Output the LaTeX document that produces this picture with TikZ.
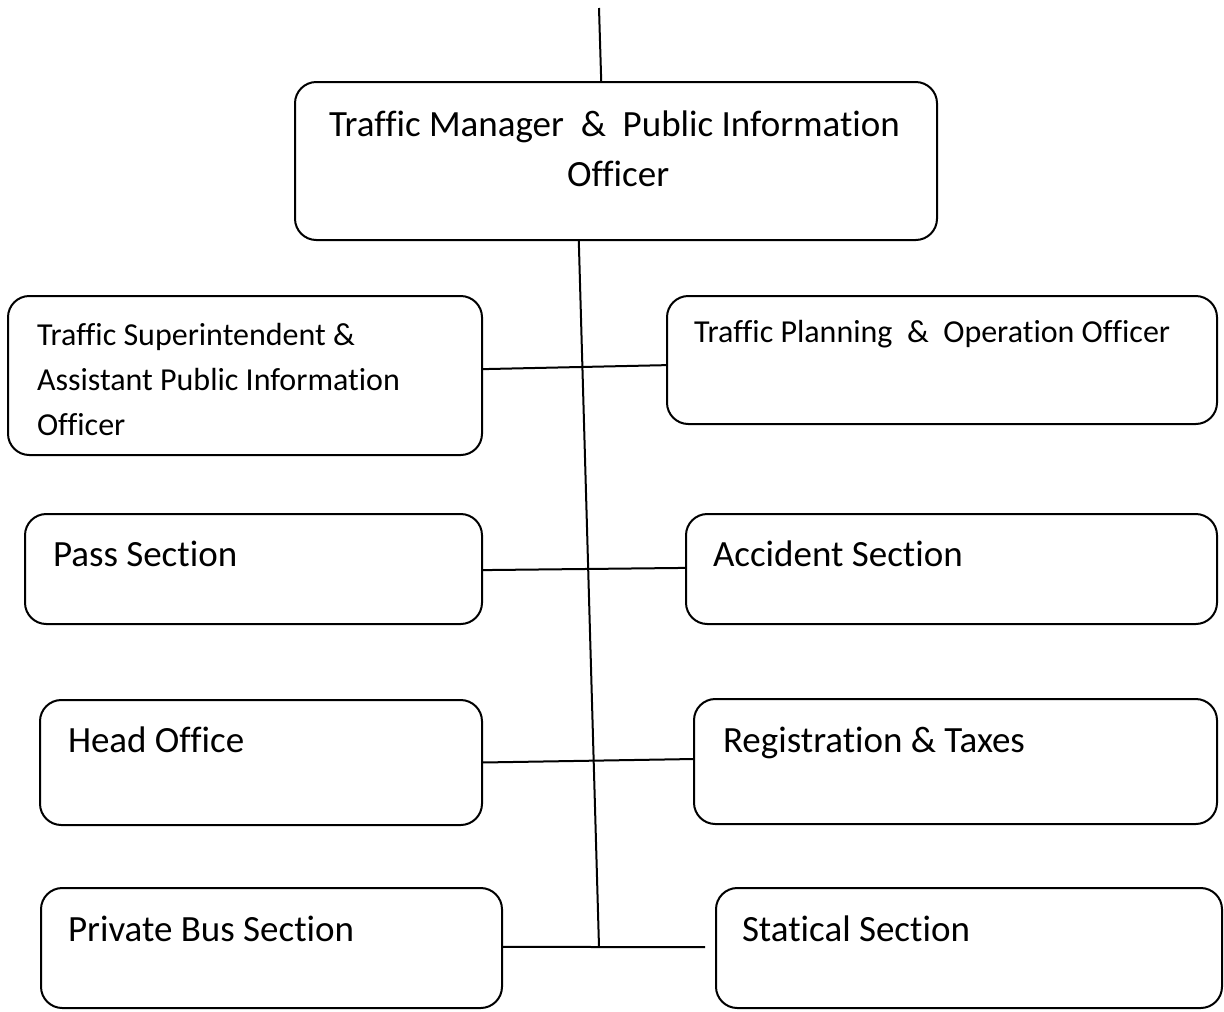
\documentclass[tikz,border=0pt]{standalone}
\usepackage{fontspec}
\setmainfont[Ligatures=NoCommon]{Carlito}
\usetikzlibrary{calc}
\tikzset{every picture/.style={line width=1.5pt}}

\begin{document}
\begin{tikzpicture}[x=0.75pt,y=0.75pt,yscale=-1,xscale=1,
  office/.style={draw, rounded corners=16pt, inner sep=0pt, outer sep=0pt},
  bigtxt/.style={anchor=base west, inner sep=0pt, font=\fontsize{27.75}{37.5}\selectfont},
  smalltxt/.style={anchor=base west, inner sep=0pt, font=\fontsize{24}{33.75}\selectfont}]
\useasboundingbox (0,0) rectangle (1224,1011);

%Boxes
\node [office, minimum width=481.5pt, minimum height=118.5pt] (manager) at (616,161) {};
\node [office, minimum width=355.5pt, minimum height=119.25pt] (supt) at (245,375.5) {};
\node [office, minimum width=412.5pt, minimum height=96pt] (plan) at (942,360) {};
\node [office, minimum width=342.75pt, minimum height=82.5pt] (pass) at (253.5,569) {};
\node [office, minimum width=398.25pt, minimum height=82.5pt] (accident) at (951.5,569) {};
\node [office, minimum width=331.5pt, minimum height=93.75pt] (head) at (261,762.5) {};
\node [office, minimum width=392.25pt, minimum height=93.75pt] (regis) at (955.5,761.5) {};
\node [office, minimum width=345.75pt, minimum height=90pt] (bus) at (271.5,948) {};
\node [office, minimum width=379.5pt, minimum height=90pt] (stat) at (969,948) {};

% Text Node
\node [bigtxt] (managertxt) at (328,136) {Traffic Manager\ \ \&\ \ Public Information};
\node [bigtxt] (managertxtb) at (566,186) {Officer};
\node [smalltxt] (supttxt) at (36,345) {Traffic Superintendent \&};
\node [smalltxt] (supttxtb) at (36,390) {Assistant Public Information};
\node [smalltxt] (supttxtc) at (36,435) {Officer};
\node [smalltxt] (plantxt) at (693,342) {Traffic Planning\ \ \&\ \ Operation Officer};
\node [bigtxt] (passtxt) at (52,566) {Pass Section};
\node [bigtxt] (accidenttxt) at (712,566) {Accident Section};
\node [bigtxt] (headtxt) at (67,752) {Head Office};
\node [bigtxt] (registxt) at (722,752) {Registration \& Taxes};
\node [bigtxt] (bustxt) at (67,941) {Private Bus Section};
\node [bigtxt] (stattxt) at (741,941) {Statical Section};

%Straight Lines
\coordinate (feed) at (599,8);
\coordinate (foot) at (599,947);
\coordinate (tail) at (705,947);
\draw (feed) -- ($(manager.north west)!0.477!(manager.north east)$);
\draw ($(manager.south west)!0.442!(manager.south east)$) -- (foot);
\draw ($(supt.north east)!0.46!(supt.south east)$) -- ($(plan.north west)!0.54!(plan.south west)$);
\draw ($(pass.north east)!0.51!(pass.south east)$) -- ($(accident.north west)!0.49!(accident.south west)$);
\draw ($(head.north east)!0.5!(head.south east)$) -- ($(regis.north west)!0.48!(regis.south west)$);
\draw ($(bus.north east)!0.49!(bus.south east)$) -- (foot) -- (tail);

\end{tikzpicture}
\end{document}
